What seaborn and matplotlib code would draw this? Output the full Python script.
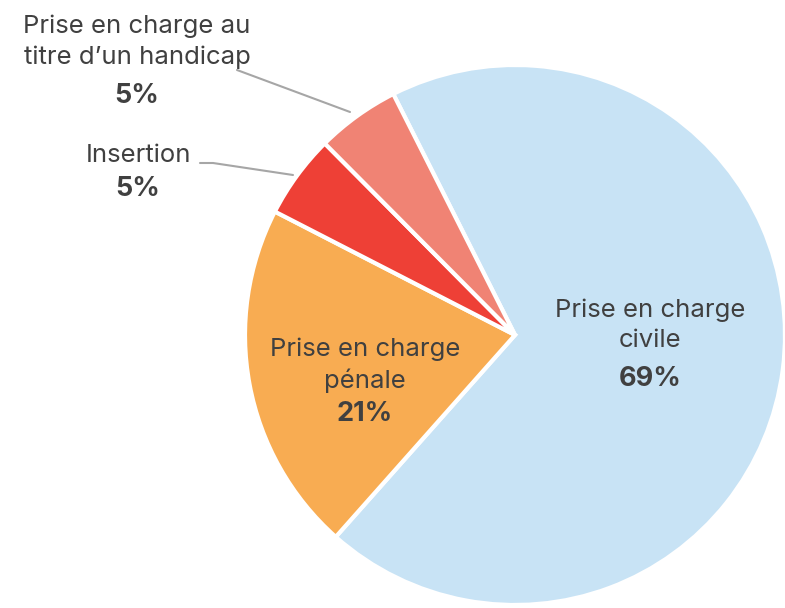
import matplotlib
matplotlib.use("Agg")
import matplotlib.pyplot as plt
import seaborn as sns

# data
categories = ["Prise en charge\ncivile", "Prise en charge\npénale", "Insertion",
              "Prise en charge au\ntitre d\u2019un handicap"]
values = [69, 21, 5, 5]
pct_labels = ["69%", "21%", "5%", "5%"]
colors = ["#C8E3F5", "#F8AC52", "#EE4036", "#F08374"]

sns.set_theme(style="white")
plt.rcParams["font.family"] = ["Inter", "DejaVu Sans"]
txt = "#404040"

fig = plt.figure(figsize=(7.85, 6.08), dpi=100)
ax = fig.add_axes([245 / 785, 3 / 608, 540 / 785, 540 / 608])

ax.pie(values, colors=colors, startangle=116.8, counterclock=False,
       wedgeprops=dict(edgecolor="white", linewidth=3))
ax.set_xlim(-1, 1)
ax.set_ylim(-1, 1)


def px(x, y):
    # pixel position in the reference -> pie data coords
    return (x - 515) / 270, (335 - y) / 270


# label positions (name centre, percent centre)
pos = [((650, 325), (650, 379)),
       ((365, 365), (365, 414)),
       ((138, 155), (138, 189)),
       ((137, 42), (137, 96))]

for name, pct, (p1, p2) in zip(categories, pct_labels, pos):
    ax.text(*px(*p1), name, ha="center", va="center", fontsize=18.5,
            color=txt, linespacing=1.4, clip_on=False)
    ax.text(*px(*p2), pct, ha="center", va="center", fontsize=19.5,
            color=txt, fontweight="bold", clip_on=False)

# leader lines
lx, ly = zip(px(237, 70), px(350, 112))
ax.plot(lx, ly, color="#A6A6A6", lw=1.5, clip_on=False)
lx, ly = zip(px(200, 163), px(213, 163), px(293, 175))
ax.plot(lx, ly, color="#A6A6A6", lw=1.5, clip_on=False)

ax.axis("off")
fig.savefig("out.png", dpi=100)
